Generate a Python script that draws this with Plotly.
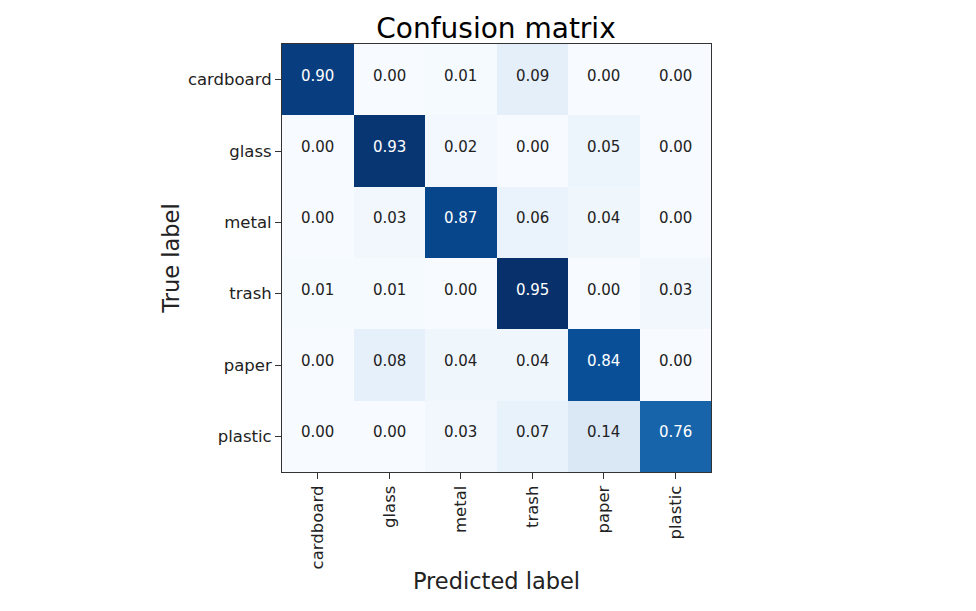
import plotly.graph_objects as go

# class names and normalized confusion matrix values
classes = ["cardboard", "glass", "metal", "trash", "paper", "plastic"]
cardboard_row = [0.90, 0.00, 0.01, 0.09, 0.00, 0.00]
glass_row = [0.00, 0.93, 0.02, 0.00, 0.05, 0.00]
metal_row = [0.00, 0.03, 0.87, 0.06, 0.04, 0.00]
trash_row = [0.01, 0.01, 0.00, 0.95, 0.00, 0.03]
paper_row = [0.00, 0.08, 0.04, 0.04, 0.84, 0.00]
plastic_row = [0.00, 0.00, 0.03, 0.07, 0.14, 0.76]

cm = [cardboard_row, glass_row, metal_row, trash_row, paper_row, plastic_row]

# matplotlib "Blues"
blues = ["#f7fbff", "#deebf7", "#c6dbef", "#9ecae1", "#6baed6",
         "#4292c6", "#2171b5", "#08519c", "#08306b"]
colorscale = [[i / (len(blues) - 1), c] for i, c in enumerate(blues)]

zmax = max(max(r) for r in cm)
thresh = zmax / 2

fig = go.Figure(go.Heatmap(
    z=cm, x=classes, y=classes,
    colorscale=colorscale, zmin=0, zmax=zmax,
    showscale=False, hoverinfo="skip",
))

# cell labels, white on dark cells
for i, row in enumerate(cm):
    for j, v in enumerate(row):
        fig.add_annotation(
            x=classes[j], y=classes[i], text=f"{v:.2f}",
            showarrow=False, yshift=4,
            font=dict(size=15, color="white" if v > thresh else "#222222"),
        )

# page body has an 8px margin, so margins are trimmed to match
fig.update_layout(
    width=976, height=611,
    margin=dict(l=274, r=273, t=36, b=147),
    plot_bgcolor="white", paper_bgcolor="white",
    font=dict(family="DejaVu Sans", color="#222222"),
    title=dict(text="Confusion matrix", x=0.5, xanchor="center",
               y=1 - 20 / 611, yanchor="middle", font=dict(size=28, color="black")),
)
fig.update_xaxes(
    title=dict(text="Predicted label", font=dict(size=22.5), standoff=4),
    tickangle=-90, tickfont=dict(size=16.5),
    ticks="outside", ticklen=6, tickcolor="#333333",
    showline=True, linecolor="#333333", linewidth=1, mirror=True,
    showgrid=False, zeroline=False,
)
fig.update_yaxes(
    title=dict(text="True label", font=dict(size=22.5), standoff=2),
    autorange="reversed", tickfont=dict(size=16.5),
    ticks="outside", ticklen=6, tickcolor="#333333",
    showline=True, linecolor="#333333", linewidth=1, mirror=True,
    showgrid=False, zeroline=False,
)

fig.write_html("out.html")
